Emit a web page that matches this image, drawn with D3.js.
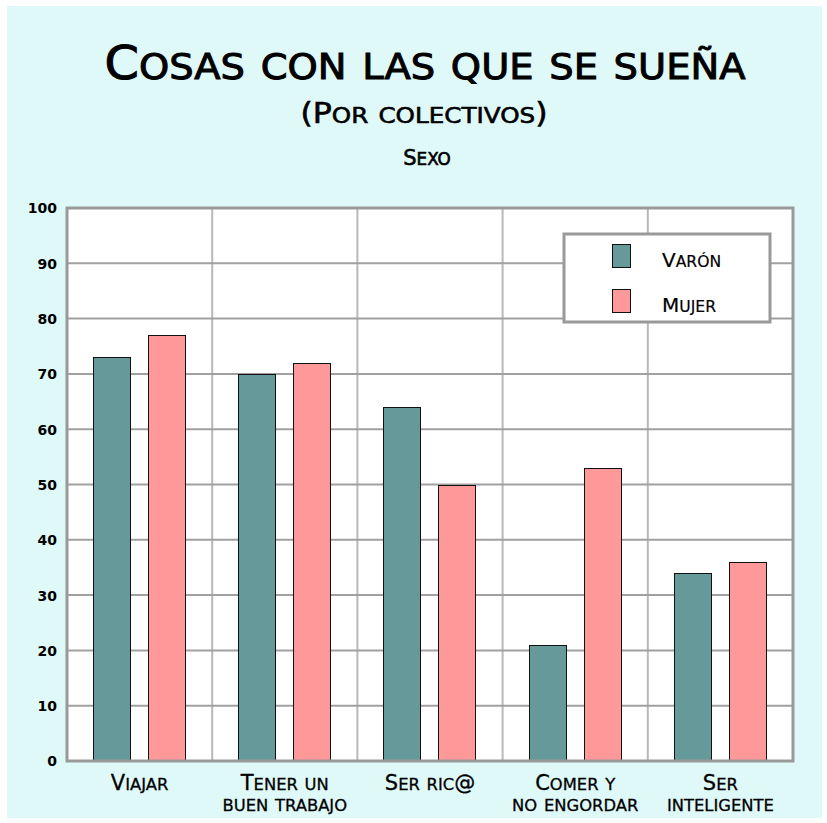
<!DOCTYPE html>
<html><head><meta charset="utf-8">
<script src="https://cdn.jsdelivr.net/npm/d3@7"></script>
<style>body{margin:0;background:#fff}svg{display:block}text{font-family:"DejaVu Sans",sans-serif}</style>
</head><body><svg id="c" width="827" height="823"></svg>
<script>
const categories = [["Viajar"],["Tener un","buen trabajo"],["Ser ric@"],["Comer y","no engordar"],["Ser","inteligente"]];
const seriesNames = ["Varón","Mujer"];
const varon = [73,70,64,21,34];
const mujer = [77,72,50,53,36];
const yTicks = [0,10,20,30,40,50,60,70,80,90,100];
const colors = ["#669999","#ff9999"];

function smallCaps(sel, str, F, r){
  const runs=[];
  for(const ch of str){
    const low = ch !== ch.toUpperCase();
    const last = runs[runs.length-1];
    if(last && last.low===low) last.s+=ch; else runs.push({low,s:ch});
  }
  runs.forEach(u=>sel.append("tspan").attr("font-size",u.low?F*r:F).text(u.low?u.s.toUpperCase():u.s));
  return sel;
}

const svg = d3.select("#c");
svg.append("rect").attr("x",7).attr("y",6).attr("width",815).attr("height",812).attr("fill","#dff8f8");

const L=67,R=793,T=208,B=761;
const x = d3.scaleBand().domain(d3.range(categories.length)).range([L,R]).padding(0);
const xi = d3.scaleBand().domain([0,1]).range([26,118]).paddingInner(18/55).paddingOuter(0);
const y = d3.scaleLinear().domain([0,100]).range([B,T]);

svg.append("rect").attr("x",L).attr("y",T).attr("width",R-L).attr("height",B-T).attr("fill","#fff");

svg.append("g").selectAll("line").data(d3.range(1,categories.length)).join("line")
  .attr("x1",i=>x(i)).attr("x2",i=>x(i)).attr("y1",T).attr("y2",B)
  .attr("stroke","#b8b8b8").attr("stroke-width",2);
svg.append("g").selectAll("line").data(yTicks.slice(1,-1)).join("line")
  .attr("x1",L).attr("x2",R).attr("y1",d=>y(d)).attr("y2",d=>y(d))
  .attr("stroke","#a0a0a0").attr("stroke-width",2);

const data = categories.map((c,i)=>[varon[i],mujer[i]]);
const g = svg.append("g");
data.forEach((vals,i)=>{
  vals.forEach((v,s)=>{
    g.append("rect").attr("x",Math.round(x(i)+xi(s))+0.5).attr("y",Math.round(y(v))+0.5)
     .attr("width",Math.round(xi.bandwidth())).attr("height",B-Math.round(y(v)))
     .attr("fill",colors[s]).attr("stroke","#111").attr("stroke-width",1);
  });
});

svg.append("rect").attr("x",L).attr("y",T).attr("width",R-L).attr("height",B-T)
  .attr("fill","none").attr("stroke","#999").attr("stroke-width",3);

const yAxis = d3.axisLeft(y).tickValues(yTicks).tickSize(0).tickPadding(10);
const ya = svg.append("g").attr("transform",`translate(${L},0)`).call(yAxis);
ya.select(".domain").remove();
ya.selectAll("text").attr("font-size",14).attr("font-weight","bold").attr("fill","#000")
  .style("font-family","'DejaVu Sans',sans-serif").attr("dy","0.35em");

categories.forEach((lines,i)=>{
  const cx = x(i)+x.bandwidth()/2;
  lines.forEach((ln,k)=>{
    const t = svg.append("text").attr("x",cx).attr("y",790+k*21)
      .attr("text-anchor","middle").attr("fill","#000")
      .attr("stroke","#000").attr("stroke-width",0.3);
    smallCaps(t, ln, 21, 0.78);
  });
});

const t1 = svg.append("text").attr("x",425).attr("y",79).attr("text-anchor","middle")
  .attr("textLength",641).attr("lengthAdjust","spacingAndGlyphs").attr("fill","#000")
  .attr("stroke","#000").attr("stroke-width",1);
smallCaps(t1,"Cosas con las que se sueña",46,0.78);
const t2 = svg.append("text").attr("x",424).attr("y",123).attr("text-anchor","middle")
  .attr("textLength",247).attr("lengthAdjust","spacingAndGlyphs").attr("fill","#000")
  .attr("stroke","#000").attr("stroke-width",0.6);
smallCaps(t2,"(Por colectivos)",28,0.78);
const t3 = svg.append("text").attr("x",427).attr("y",165).attr("text-anchor","middle")
  .attr("fill","#000").attr("stroke","#000").attr("stroke-width",0.6);
smallCaps(t3,"Sexo",21,0.8);

const lg = svg.append("g");
lg.append("rect").attr("x",564).attr("y",234).attr("width",206).attr("height",88)
  .attr("fill","#fff").attr("stroke","#999").attr("stroke-width",3);
seriesNames.forEach((n,s)=>{
  lg.append("rect").attr("x",612.5).attr("y",244.5+s*45).attr("width",18).attr("height",23)
    .attr("fill",colors[s]).attr("stroke","#111");
  const t = lg.append("text").attr("x",662).attr("y",267+s*45).attr("fill","#000")
    .attr("stroke","#000").attr("stroke-width",0.2);
  smallCaps(t,n,20,0.78);
});
</script></body></html>
